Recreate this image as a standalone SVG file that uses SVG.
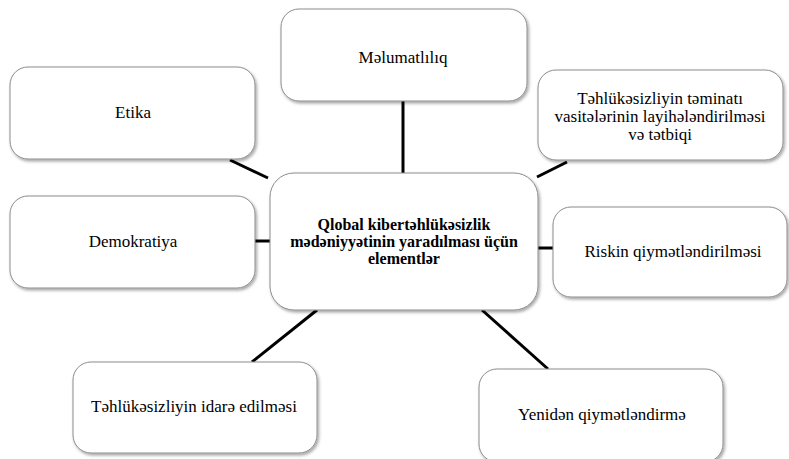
<svg xmlns="http://www.w3.org/2000/svg" width="789" height="459" viewBox="0 0 789 459">
<style>
.box{fill:#fff;stroke:#8c8c8c;stroke-width:1;filter:url(#sh)}
.t{font-family:'Liberation Serif','Times New Roman',serif;font-size:17px;fill:#000;text-anchor:middle}
.b{font-weight:bold;font-size:16px}
.c{stroke:#000;stroke-width:3;fill:none}
</style>
<defs>
<filter id="sh" x="-10%" y="-10%" width="120%" height="130%">
<feDropShadow dx="1.5" dy="2" stdDeviation="1.5" flood-color="#000" flood-opacity="0.35"/>
</filter>
</defs>
<rect width="789" height="459" fill="#fff"/>
<g id="connectors">
<line class="c" x1="403" y1="101" x2="403" y2="173"/>
<line class="c" x1="230" y1="160" x2="268" y2="178"/>
<line class="c" x1="537" y1="177" x2="567" y2="162"/>
<line class="c" x1="255" y1="241" x2="270" y2="241"/>
<line class="c" x1="538" y1="248" x2="553" y2="248"/>
<line class="c" x1="317" y1="310" x2="252" y2="362"/>
<line class="c" x1="482" y1="310" x2="548" y2="369"/>
</g>
<g id="center">
<rect class="box" x="270" y="173" width="268" height="137" rx="24"/>
<text class="t b" x="404" y="230">Qlobal kibertəhlükəsizlik</text>
<text class="t b" x="404" y="247">mədəniyyətinin yaradılması üçün</text>
<text class="t b" x="404" y="264">elementlər</text>
</g>
<g id="melumatliliq">
<rect class="box" x="281" y="9" width="246" height="92" rx="18"/>
<text class="t" x="403" y="63">Məlumatlılıq</text>
</g>
<g id="etika">
<rect class="box" x="10" y="67" width="245" height="92" rx="18"/>
<text class="t" x="133" y="118">Etika</text>
</g>
<g id="temin">
<rect class="box" x="538" y="70" width="245" height="90" rx="18"/>
<text class="t" x="660" y="104">Təhlükəsizliyin təminatı</text>
<text class="t" x="660" y="122">vasitələrinin layihələndirilməsi</text>
<text class="t" x="660" y="140">və tətbiqi</text>
</g>
<g id="demokratiya">
<rect class="box" x="10" y="196" width="245" height="92" rx="18"/>
<text class="t" x="133" y="247">Demokratiya</text>
</g>
<g id="risk">
<rect class="box" x="553" y="207" width="234" height="90" rx="18"/>
<text class="t" x="673" y="257">Riskin qiymətləndirilməsi</text>
</g>
<g id="idare">
<rect class="box" x="73" y="362" width="244" height="91" rx="18"/>
<text class="t" x="194" y="412">Təhlükəsizliyin idarə edilməsi</text>
</g>
<g id="yeniden">
<rect class="box" x="479" y="369" width="244" height="93" rx="18"/>
<text class="t" x="602" y="420">Yenidən qiymətləndirmə</text>
</g>
</svg>
